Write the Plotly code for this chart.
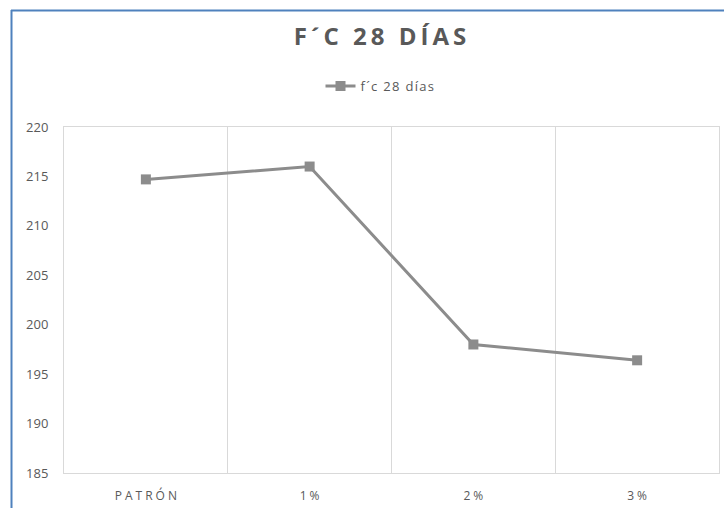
import plotly.graph_objects as go

categories = ["PATRÓN", "1%", "2%", "3%"]
fc_28_dias = [214.7, 216.0, 198.0, 196.4]
series_name = "f´c 28 días"
title_text = "F´C 28 DÍAS"

W, H = 724, 508
L, R, T, B = 64, 5, 127, 35
pw, ph = W - L - R, H - T - B

def px_x(x):
    return (x - L) / pw

def px_y(y):
    return (H - B - y) / ph

def spaced(s, gap):
    # widen the tracking of a label by putting a narrow space between letters
    return gap.join(s)

THIN = "\u2009"
HAIR = "\u200a"
FOUR_EM = "\u2005"

grey_text = "#595959"
line_grey = "#8c8c8c"
grid_grey = "#d9d9d9"
frame_blue = "#4f81bd"

fig = go.Figure()
fig.add_trace(go.Scatter(
    x=list(range(len(categories))),
    y=fc_28_dias,
    mode="lines+markers",
    name=spaced(series_name, HAIR),
    line=dict(color=line_grey, width=3),
    marker=dict(symbol="square", size=10, color=line_grey),
))

fig.update_layout(
    width=W, height=H,
    margin=dict(l=L, r=R, t=T, b=B),
    paper_bgcolor="white",
    plot_bgcolor="white",
    title=dict(
        text="<b>" + spaced(title_text, THIN) + "</b>",
        x=px_x(380), xanchor="center", xref="paper",
        y=1 - 37 / H, yanchor="middle", yref="container",
        font=dict(family="Open Sans", size=24, color=grey_text),
    ),
    showlegend=True,
    legend=dict(
        orientation="h",
        x=px_x(380), xanchor="center",
        y=px_y(86), yanchor="middle",
        font=dict(family="Open Sans", size=13, color=grey_text),
        bgcolor="rgba(0,0,0,0)",
    ),
    xaxis=dict(
        range=[-0.5, 3.5],
        tickvals=list(range(len(categories))),
        ticktext=[spaced(c, FOUR_EM) for c in categories],
        showgrid=False,
        minor=dict(dtick=1, tick0=0.5, showgrid=True, gridcolor=grid_grey, gridwidth=1),
        showline=True, linecolor=grid_grey, linewidth=1, mirror=True,
        ticks="",
        ticklabelstandoff=12,
        tickfont=dict(family="Open Sans", size=12, color=grey_text),
        zeroline=False,
        fixedrange=True,
    ),
    yaxis=dict(
        range=[185, 220],
        dtick=5,
        showgrid=False,
        showline=True, linecolor=grid_grey, linewidth=1, mirror=True,
        ticks="",
        ticklabelstandoff=12,
        tickfont=dict(family="Open Sans", size=13, color=grey_text),
        zeroline=False,
        fixedrange=True,
    ),
    shapes=[
        dict(type="line", xref="paper", yref="paper",
             x0=px_x(11), x1=px_x(W + 2), y0=px_y(10.5), y1=px_y(10.5),
             line=dict(color=frame_blue, width=2)),
        dict(type="line", xref="paper", yref="paper",
             x0=px_x(11.5), x1=px_x(11.5), y0=px_y(10), y1=px_y(H + 2),
             line=dict(color=frame_blue, width=2)),
    ],
)

fig.write_html("out.html")
